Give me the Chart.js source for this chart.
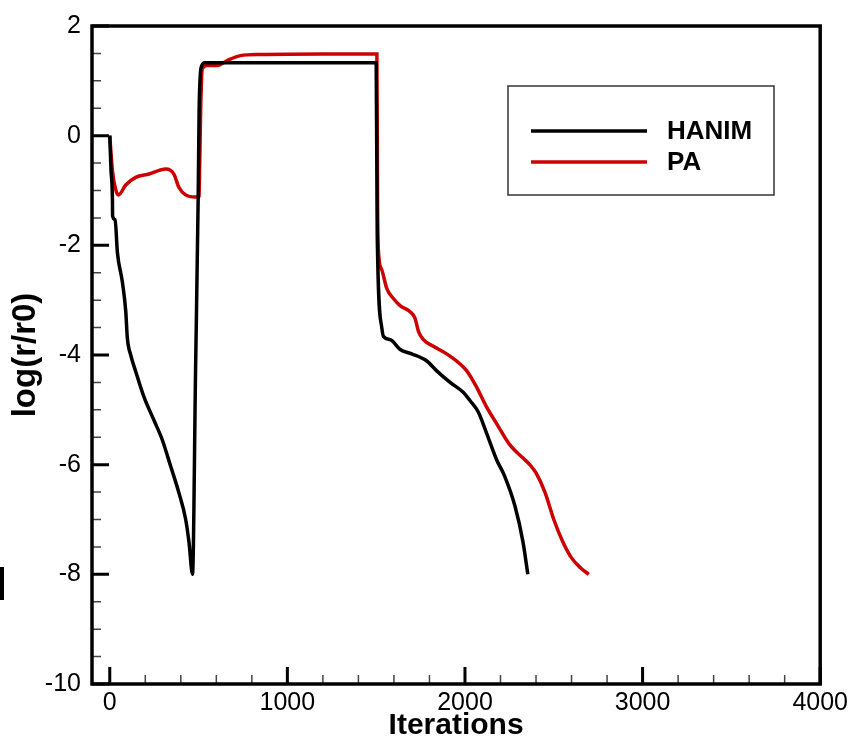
<!DOCTYPE html>
<html>
<head>
<meta charset="utf-8">
<title>Residual history</title>
<script src="https://cdn.jsdelivr.net/npm/chart.js@4.4.1/dist/chart.umd.min.js"></script>
<style>
    html, body { margin: 0; padding: 0; background: #fff; }
    #wrap { width: 852px; height: 741px; }
</style>
</head>
<body>
<div id="wrap"><canvas id="residual-chart" width="852" height="741"></canvas></div>
<script>
// data
const hanimIter = [0, 7, 15, 16, 30, 43, 71, 90, 99, 118, 146, 193, 249, 296, 343, 389, 427, 446, 466,
    483, 498, 503, 515, 535, 800, 1200, 1500, 1506, 1532, 1541, 1580, 1635, 1700, 1785, 1841, 1916,
    1990, 2028, 2075, 2122, 2178, 2222, 2281, 2326, 2354];
const hanimLog = [0, -0.63, -1.17, -1.47, -1.53, -2.13, -2.67, -3.2, -3.69, -4.0, -4.3, -4.77, -5.19, -5.55, -6.03, -6.51, -6.99, -7.41, -8.0,
    -4.3, -1.1, 0.44, 1.25, 1.33, 1.33, 1.33, 1.33, -1.83, -3.51, -3.66, -3.72, -3.9, -3.98, -4.11, -4.29, -4.5,
    -4.68, -4.83, -5.04, -5.43, -5.91, -6.2, -6.75, -7.4, -8.0];

const paIter = [0, 15, 34, 49, 90, 146, 221, 315, 361, 389, 427, 483, 502, 507, 512, 521, 549, 605, 661, 736, 848,
    1200, 1504, 1508, 1515, 1532, 1560, 1597, 1635, 1691, 1719, 1738, 1766, 1822, 1916, 2010, 2066, 2122, 2178,
    2253, 2327, 2365, 2400, 2450, 2500, 2550, 2600, 2650, 2697];
const paLog = [0, -0.64, -0.99, -1.08, -0.9, -0.76, -0.70, -0.61, -0.70, -0.94, -1.08, -1.12, -1.12, -0.4, 0.5, 1.22, 1.28, 1.28, 1.37, 1.46, 1.48,
    1.49, 1.49, -1.3, -2.2, -2.45, -2.79, -2.97, -3.1, -3.21, -3.33, -3.57, -3.72, -3.84, -4.02, -4.29, -4.59, -4.95, -5.25,
    -5.64, -5.88, -6.0, -6.15, -6.5, -7.0, -7.4, -7.7, -7.88, -8.0];

const xTicks = [0, 1000, 2000, 3000, 4000];
const yTicks = [-10, -8, -6, -4, -2, 0, 2];

const FONT = "'Liberation Sans', Arial, Helvetica, sans-serif";

// ticks pointing into the plot, black frame, and the legend box
const framePlugin = {
    id: "frame",
    afterDatasetsDraw(chart) {
        const { ctx, chartArea, scales } = chart;
        const { left, right, top, bottom } = chartArea;
        const x = scales.x, y = scales.y;
        ctx.save();

        // minor ticks
        ctx.strokeStyle = "#444";
        ctx.lineWidth = 1.5;
        ctx.beginPath();
        for (let v = 0; v <= 4000; v += 200) {
            if (v % 1000 === 0) continue;
            const px = x.getPixelForValue(v);
            ctx.moveTo(px, bottom);
            ctx.lineTo(px, bottom - 9);
        }
        for (let v = -10; v <= 2; v += 0.5) {
            if (v % 2 === 0) continue;
            const py = y.getPixelForValue(v);
            ctx.moveTo(left, py);
            ctx.lineTo(left + 9, py);
        }
        ctx.stroke();

        // major ticks
        ctx.strokeStyle = "#000";
        ctx.lineWidth = 3;
        ctx.beginPath();
        xTicks.forEach((v) => {
            const px = x.getPixelForValue(v);
            ctx.moveTo(px, bottom);
            ctx.lineTo(px, bottom - 17);
        });
        yTicks.forEach((v) => {
            const py = y.getPixelForValue(v);
            ctx.moveTo(left, py);
            ctx.lineTo(left + 17, py);
        });
        ctx.stroke();

        // frame
        ctx.lineWidth = 3.5;
        ctx.strokeRect(left, top, right - left, bottom - top);

        // legend
        const bx = 508, by = 86, bw = 266, bh = 109;
        ctx.fillStyle = "#fff";
        ctx.fillRect(bx, by, bw, bh);
        ctx.strokeStyle = "#333";
        ctx.lineWidth = 1.5;
        ctx.strokeRect(bx, by, bw, bh);
        ctx.font = "bold 26px " + FONT;
        ctx.textBaseline = "middle";
        ctx.textAlign = "left";
        chart.data.datasets.forEach((ds, i) => {
            const ly = 131 + i * 31;
            ctx.strokeStyle = ds.borderColor;
            ctx.lineWidth = 3.5;
            ctx.beginPath();
            ctx.moveTo(531, ly);
            ctx.lineTo(647, ly);
            ctx.stroke();
            ctx.fillStyle = "#000";
            ctx.fillText(ds.label, 667, ly + 1);
        });

        // stray mark at the left edge of the original
        ctx.fillStyle = "#000";
        ctx.fillRect(0, 567, 4, 33);
        ctx.restore();
    },
};

function toPoints(xs, ys) {
    return xs.map((v, i) => ({ x: v, y: ys[i] }));
}

function createChart() {
    const ctx = document.getElementById("residual-chart").getContext("2d");
    new Chart(ctx, {
        type: "line",
        data: {
            datasets: [
                {
                    label: "HANIM",
                    data: toPoints(hanimIter, hanimLog),
                    borderColor: "#000000",
                    borderWidth: 3.5,
                    pointRadius: 0,
                    cubicInterpolationMode: "monotone",
                },
                {
                    label: "PA",
                    data: toPoints(paIter, paLog),
                    borderColor: "#cc0000",
                    borderWidth: 3.5,
                    pointRadius: 0,
                    cubicInterpolationMode: "monotone",
                },
            ],
        },
        options: {
            responsive: false,
            animation: false,
            devicePixelRatio: 1,
            layout: { padding: { top: 18, right: 31, left: 0, bottom: 0 } },
            plugins: {
                legend: { display: false },
                tooltip: { enabled: false },
            },
            scales: {
                x: {
                    type: "linear",
                    min: -100,
                    max: 4000,
                    afterBuildTicks: (s) => { s.ticks = xTicks.map((v) => ({ value: v })); },
                    afterFit: (s) => { s.height = 57; },
                    grid: { display: false, drawTicks: false },
                    border: { display: false },
                    ticks: {
                        color: "#000",
                        font: { family: FONT, size: 25 },
                        padding: 4,
                        maxRotation: 0,
                        callback: (v) => String(v),
                    },
                    title: {
                        display: true,
                        text: "Iterations",
                        color: "#000",
                        font: { family: FONT, size: 30, weight: "bold", lineHeight: 1 },
                        padding: { top: 0, bottom: 0 },
                    },
                },
                y: {
                    type: "linear",
                    min: -10,
                    max: 2,
                    afterBuildTicks: (s) => { s.ticks = yTicks.map((v) => ({ value: v })); },
                    afterFit: (s) => { s.width = 92; },
                    grid: { display: false, drawTicks: false },
                    border: { display: false },
                    ticks: {
                        color: "#000",
                        font: { family: FONT, size: 25 },
                        padding: 11,
                        callback: (v) => String(v),
                    },
                    title: {
                        display: true,
                        text: "log(r/r0)",
                        color: "#000",
                        font: { family: FONT, size: 33, weight: "bold", lineHeight: 1 },
                        padding: { top: 9, bottom: 0 },
                    },
                },
            },
        },
        plugins: [framePlugin],
    });
}
createChart();
</script>
</body>
</html>
